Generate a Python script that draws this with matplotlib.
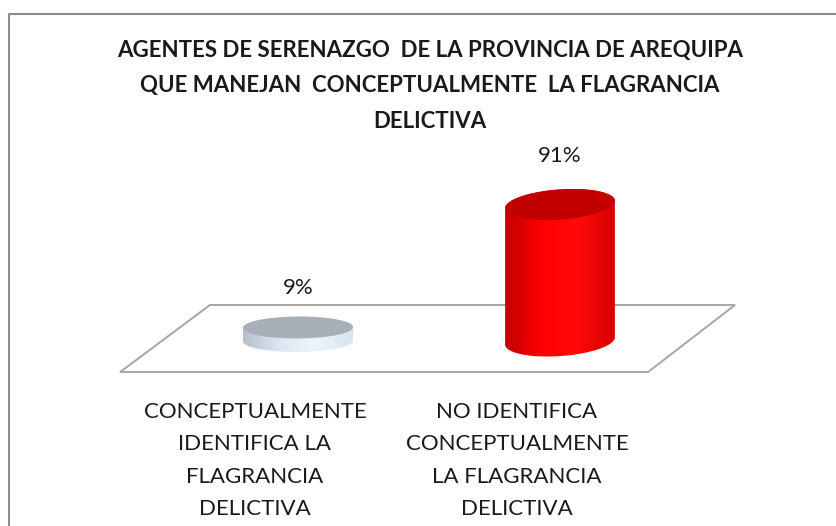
import matplotlib
matplotlib.use("Agg")
import matplotlib.pyplot as plt
import numpy as np
from matplotlib.patches import Polygon
from matplotlib.lines import Line2D
from matplotlib.colors import to_rgb

title = ("AGENTES DE SERENAZGO  DE LA PROVINCIA DE AREQUIPA\n"
         "QUE MANEJAN  CONCEPTUALMENTE  LA FLAGRANCIA\n"
         "DELICTIVA")
categories = ["CONCEPTUALMENTE\nIDENTIFICA LA\nFLAGRANCIA\nDELICTIVA",
              "NO IDENTIFICA\nCONCEPTUALMENTE\nLA FLAGRANCIA\nDELICTIVA"]
values = [9, 91]
labels = ["9%", "91%"]
side_colors = [["#b4c0cc", "#dde6f0", "#eef4fb", "#d8e2ee"],
               ["#c00000", "#ff0000", "#ff0a0a", "#d80000"]]
top_colors = ["#a7afb9", "#c20000"]

W, H = 837, 526
fig = plt.figure(figsize=(W / 100, H / 100), dpi=100)
ax = fig.add_axes([0, 0, 1, 1])
ax.axis("off")

# pixel -> data mapping (x: category units, y: percent)
px_per_x = 262.0
px_per_y = 1.5
x0_px, base_px = 298.0, 341.0

# outer frame (only left and top edges visible)
fig.lines.append(Line2D([9, 9, W], [0, H - 14, H - 14], transform=None,
                        color="#8c8c8c", lw=1.5))

# floor
floor = Polygon([(-0.336, 24), (1.668, 24), (1.336, -20.7), (-0.679, -20.7)],
                closed=True, facecolor="white", edgecolor="#a6a6a6", lw=1.4, zorder=1)
ax.add_patch(floor)


def ellipse_pts(cx, cy, a_px, b_px, t, tilt):
    # ellipse in pixel space, tilted, returned in data units
    ex = a_px * np.cos(t)
    ey = b_px * np.sin(t)
    rx = ex * np.cos(tilt) - ey * np.sin(tilt)
    ry = ex * np.sin(tilt) + ey * np.cos(tilt)
    return cx + rx / px_per_x, cy + ry / px_per_y


a_px = 55
for i, v in enumerate(values):
    b_px = (21 + 0.1 * v) / 2
    tilt = np.radians(0.045 * v)
    lo = np.linspace(np.pi, 2 * np.pi, 80)
    hi = np.linspace(0, np.pi, 80)
    bx, by = ellipse_pts(i, 0, a_px, b_px, lo, tilt)
    tx, ty = ellipse_pts(i, v, a_px, b_px, hi, tilt)
    side = Polygon(np.column_stack([np.r_[bx, tx], np.r_[by, ty]]), closed=True,
                   facecolor="none", edgecolor="none", zorder=2)
    ax.add_patch(side)
    cols = [to_rgb(c) for c in side_colors[i]]
    pos = np.linspace(0, 1, len(cols))
    xs = np.linspace(0, 1, 200)
    grad = np.stack([np.interp(xs, pos, [c[k] for c in cols]) for k in range(3)], axis=-1)
    left, right = i - a_px / px_per_x, i + a_px / px_per_x
    im = ax.imshow(grad[np.newaxis, :, :], extent=[left, right, -30, v + 30],
                   aspect="auto", zorder=2, interpolation="bilinear")
    im.set_clip_path(side)
    full = np.linspace(0, 2 * np.pi, 160)
    ex, ey = ellipse_pts(i, v, a_px, b_px, full, tilt)
    ax.add_patch(Polygon(np.column_stack([ex, ey]), closed=True,
                         facecolor=top_colors[i], edgecolor="none", zorder=3))
    ax.annotate(labels[i], (i, v), xytext=(0, 38 + 0.12 * v),
                textcoords="offset pixels", ha="center", va="center",
                fontsize=16, family="Lato", color="#1a1a1a")
    ax.annotate(categories[i], (i, 0), xytext=(-43, -61), textcoords="offset pixels",
                ha="center", va="top", multialignment="center", fontsize=16,
                family="Lato", linespacing=1.78, color="#1a1a1a")

ax.set_xlim(-x0_px / px_per_x, (W - x0_px) / px_per_x)
ax.set_ylim((base_px - H) / px_per_y, base_px / px_per_y)

fig.text(430 / W, 1 - 40 / H, title, ha="center", va="top", fontsize=16,
         fontweight="bold", family="Lato", linespacing=1.85, color="#1a1a1a")

fig.savefig("out.png", dpi=100)
